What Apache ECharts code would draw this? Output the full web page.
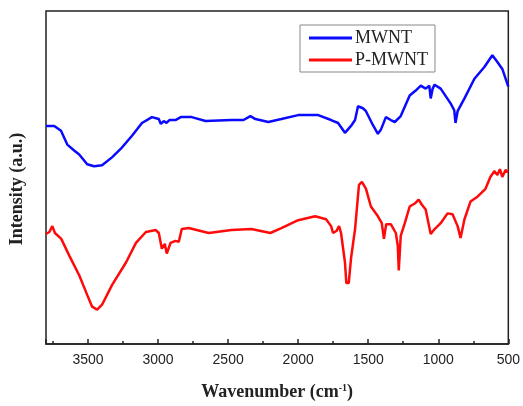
<!DOCTYPE html>
<html lang="en">
<head>
    <meta charset="UTF-8">
    <title>FTIR - MWNT / P-MWNT</title>
    <style>
        * { box-sizing: border-box; margin: 0; padding: 0; }
        body { background: #fff; }
        #chart { width: 523px; height: 406px; }
    </style>
    <script src="https://cdn.jsdelivr.net/npm/echarts@6/dist/echarts.min.js"></script>
</head>
<body>
    <div id="chart"></div>
    <script>
        // wavenumber (cm-1) and intensity (a.u.)
        const mwntWn = [3800, 3741, 3693, 3648, 3599, 3563, 3506, 3457, 3400, 3329, 3258, 3186, 3115, 3044,
            2995, 2980, 2959, 2940, 2919, 2876, 2838, 2760, 2661, 2476, 2390, 2341, 2305, 2213, 2120, 2000,
            1857, 1765, 1715, 1666, 1623, 1594, 1573, 1538, 1516, 1467, 1431, 1410, 1374, 1339, 1310, 1268,
            1204, 1161, 1125, 1090, 1064, 1054, 1040, 1026, 983, 912, 886, 877, 862, 813, 742, 671, 614,
            578, 543, 500];
        const mwntInt = [222, 222, 217, 203, 197, 193, 183, 181, 182, 190, 200, 212, 225, 231,
            229, 224, 227, 225, 228, 228, 231, 231, 227, 228, 228, 232, 229, 226, 229, 233,
            233, 228, 225, 215, 222, 228, 242, 240, 237, 223, 214, 218, 231, 228, 226, 232,
            253, 258, 263, 260, 263, 250, 260, 264, 260, 245, 238, 225, 237, 250, 270, 282, 294,
            287, 280, 262];

        const pmwntWn = [3800, 3776, 3755, 3736, 3691, 3634, 3563, 3506, 3471, 3435, 3400, 3329, 3229, 3158,
            3087, 3016, 2995, 2973, 2952, 2938, 2911, 2876, 2852, 2831, 2781, 2639, 2476, 2334, 2199, 2120,
            2000, 1879, 1801, 1765, 1751, 1727, 1708, 1694, 1666, 1656, 1639, 1623, 1594, 1566, 1545, 1516,
            1481, 1431, 1403, 1388, 1372, 1339, 1303, 1289, 1282, 1268, 1239, 1204, 1168, 1140, 1118, 1090,
            1054, 1026, 983, 934, 898, 862, 841, 813, 770, 720, 663, 628, 600, 578, 560, 543, 520, 500];
        const pmwntInt = [112, 114, 120, 113, 107, 90, 70, 50, 38, 35, 40, 60, 83, 103,
            114, 116, 113, 97, 102, 92, 103, 105, 104, 117, 118, 113, 116, 117, 113, 118,
            126, 130, 127, 120, 113, 115, 120, 113, 83, 62, 62, 87, 117, 162, 165, 158,
            140, 130, 123, 107, 122, 122, 113, 100, 75, 110, 123, 140, 143, 147, 142, 137,
            112, 117, 123, 133, 132, 120, 108, 127, 145, 150, 158, 170, 176, 172, 178, 170, 177, 175];

        const xTicks = [500, 1000, 1500, 2000, 2500, 3000, 3500];

        const toPairs = (xs, ys) => xs.map((x, i) => [x, ys[i]]);

        const serif = 'Liberation Serif';
        const chart = echarts.init(document.getElementById('chart'));
        chart.setOption({
            animation: false,
            grid: {
                left: 46, right: 12, top: 11, bottom: 56,
                show: true, borderColor: '#222', borderWidth: 1.5
            },
            legend: {
                left: 300, top: 25,
                orient: 'vertical',
                icon: 'rect',
                itemWidth: 43, itemHeight: 3, itemGap: 4,
                padding: [4, 7, 3, 9],
                borderColor: '#888', borderWidth: 1,
                textStyle: { fontFamily: serif, fontSize: 18, color: '#222', lineHeight: 18, padding: [0, 0, 0, -2] },
                data: ['MWNT', 'P-MWNT']
            },
            xAxis: [{
                type: 'value', min: 500, max: 3800, interval: 500, inverse: true,
                name: '{a|Wavenumber (cm}{s|-1}{a|)}',
                nameLocation: 'middle', nameGap: 39,
                nameTextStyle: {
                    rich: {
                        a: { fontFamily: serif, fontWeight: 'bold', fontSize: 18, color: '#222' },
                        s: { fontFamily: serif, fontWeight: 'bold', fontSize: 10, color: '#222', verticalAlign: 'top', padding: [0, 0, 8, 0] }
                    }
                },
                axisLine: { lineStyle: { color: '#222', width: 1.5 } },
                axisTick: { inside: true, length: 5, lineStyle: { color: '#222', width: 1.5 } },
                axisLabel: {
                    margin: 9, fontFamily: 'Liberation Sans', fontSize: 14, color: '#222',
                    formatter: v => xTicks.includes(v) ? String(v) : ''
                },
                splitLine: { show: false }
            }, {
                // minor ticks every 250
                type: 'value', min: 500, max: 3800, interval: 250, inverse: true,
                position: 'bottom',
                axisLine: { show: false },
                axisTick: { inside: true, length: 3, lineStyle: { color: '#222', width: 1.5 } },
                axisLabel: { show: false },
                splitLine: { show: false }
            }],
            yAxis: {
                type: 'value', min: 0, max: 339,
                name: 'Intensity (a.u.)',
                nameLocation: 'middle', nameGap: 20,
                nameTextStyle: { fontFamily: serif, fontWeight: 'bold', fontSize: 18, color: '#222', padding: [0, 0, 0, -23] },
                axisLine: { show: false },
                axisTick: { show: false },
                axisLabel: { show: false },
                splitLine: { show: false }
            },
            series: [{
                name: 'MWNT', type: 'line', symbol: 'none',
                color: '#0a0aff',
                lineStyle: { width: 2.5 },
                data: toPairs(mwntWn, mwntInt)
            }, {
                name: 'P-MWNT', type: 'line', symbol: 'none',
                color: '#ff0a0a',
                lineStyle: { width: 2.5 },
                data: toPairs(pmwntWn, pmwntInt)
            }]
        });
    </script>
</body>
</html>
